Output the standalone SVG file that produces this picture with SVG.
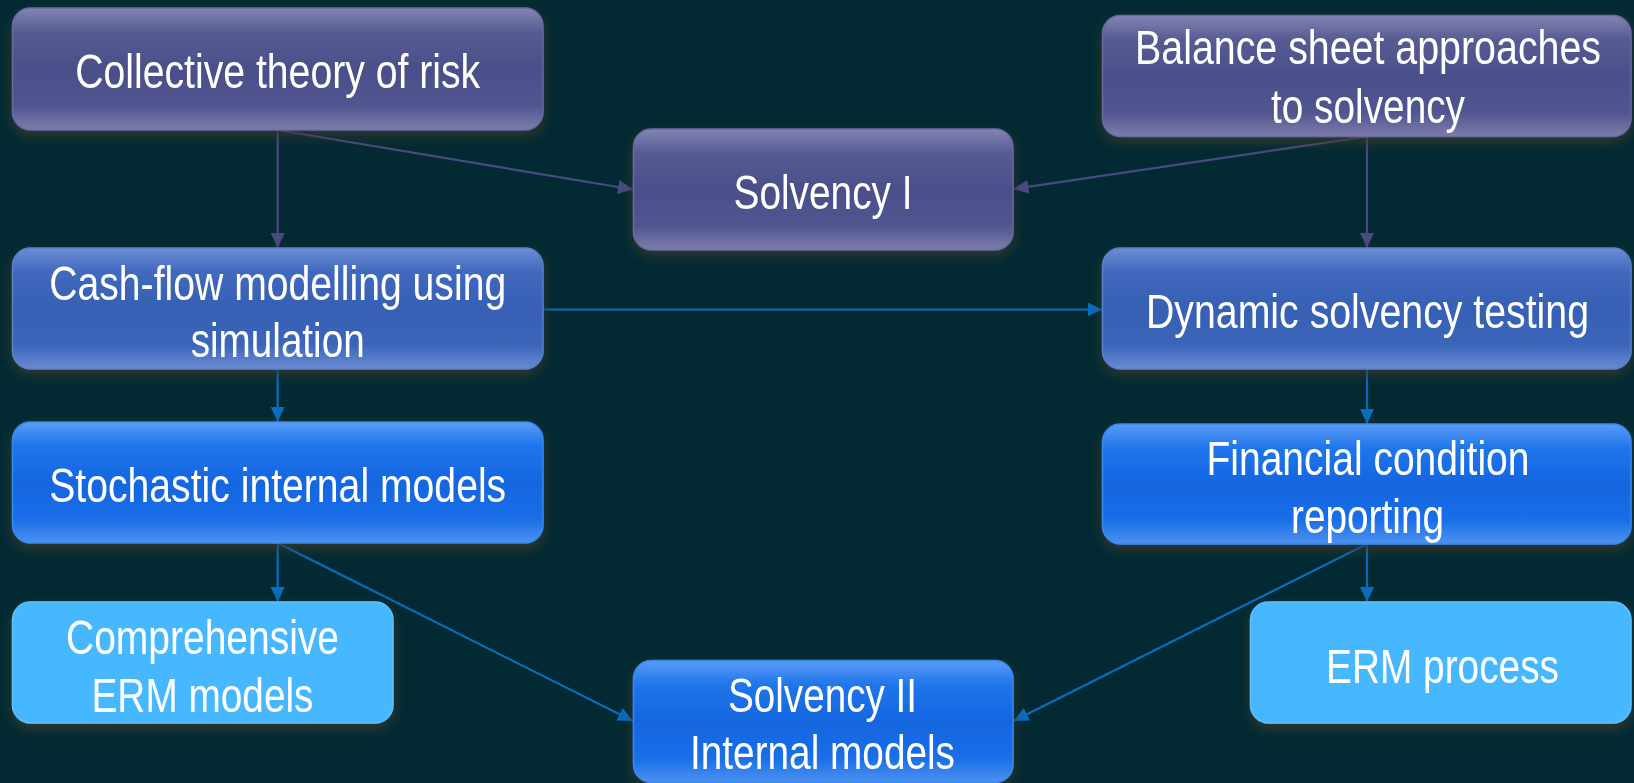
<svg xmlns="http://www.w3.org/2000/svg" width="1634" height="783" viewBox="0 0 1634 783">
<style>
.t{font-family:"Liberation Sans",Arial,sans-serif;font-size:48px;fill:#ffffff;text-anchor:middle}
.box{stroke-width:1.5}
.p{fill:url(#gP);stroke:#6a6aa0}
.m{fill:url(#gM);stroke:#5a80cc}
.b{fill:url(#gB);stroke:#3a88ee}
.l{fill:#47b8ff;stroke:#5cc2ff}
.cp{stroke:#4a4a80;stroke-width:2.2;fill:none;marker-end:url(#aP)}
.cb{stroke:#0a6cbf;stroke-width:2.2;fill:none;marker-end:url(#aB)}
</style>
<defs>
<linearGradient id="gP" x1="0" y1="0" x2="0" y2="1">
<stop offset="0" stop-color="#8484b4"/><stop offset="0.2" stop-color="#565b93"/><stop offset="0.5" stop-color="#4b4f89"/><stop offset="0.8" stop-color="#51558f"/><stop offset="1" stop-color="#7d7dac"/>
</linearGradient>
<linearGradient id="gM" x1="0" y1="0" x2="0" y2="1">
<stop offset="0" stop-color="#6c8dd5"/><stop offset="0.2" stop-color="#4068bc"/><stop offset="0.5" stop-color="#3660b4"/><stop offset="0.8" stop-color="#3b65b9"/><stop offset="1" stop-color="#6a8bd3"/>
</linearGradient>
<linearGradient id="gB" x1="0" y1="0" x2="0" y2="1">
<stop offset="0" stop-color="#5a9cf6"/><stop offset="0.2" stop-color="#1f75eb"/><stop offset="0.5" stop-color="#1566e0"/><stop offset="0.8" stop-color="#1a6ee6"/><stop offset="1" stop-color="#4c92f2"/>
</linearGradient>
<filter id="sh" x="-10%" y="-20%" width="120%" height="150%">
<feDropShadow dx="0" dy="5" stdDeviation="6" flood-color="#3b3a2a" flood-opacity="0.8"/>
</filter>
<marker id="aP" markerUnits="userSpaceOnUse" markerWidth="16" markerHeight="14" refX="15" refY="7" orient="auto">
<path d="M0,0 L15,7 L0,14 z" fill="#4a4a80"/>
</marker>
<marker id="aB" markerUnits="userSpaceOnUse" markerWidth="16" markerHeight="14" refX="15" refY="7" orient="auto">
<path d="M0,0 L15,7 L0,14 z" fill="#0a6cbf"/>
</marker>
</defs>
<rect width="1634" height="783" fill="#032a33"/>
<g id="connectors">
<line class="cp" x1="277.7" y1="130" x2="277.7" y2="248"/>
<line class="cp" x1="277.7" y1="130" x2="633" y2="189.5"/>
<line class="cp" x1="1367" y1="136.5" x2="1013.5" y2="189"/>
<line class="cp" x1="1367" y1="136.5" x2="1367" y2="248"/>
<line class="cb" x1="543" y1="309.5" x2="1102.5" y2="309.5"/>
<line class="cb" x1="277.7" y1="369" x2="277.7" y2="422"/>
<line class="cb" x1="1367" y1="369" x2="1367" y2="424"/>
<line class="cb" x1="277.7" y1="543" x2="277.7" y2="602"/>
<line class="cb" x1="277.7" y1="543" x2="633" y2="721"/>
<line class="cb" x1="1367" y1="544" x2="1367" y2="602"/>
<line class="cb" x1="1367" y1="544" x2="1013.5" y2="721"/>
</g>
<g id="n1" filter="url(#sh)">
<rect class="box p" x="12.5" y="8" width="530.5" height="122" rx="18"/>
<text class="t" x="277.7" y="88" textLength="405" lengthAdjust="spacingAndGlyphs">Collective theory of risk</text>
</g>
<g id="n2" filter="url(#sh)">
<rect class="box p" x="1102.5" y="15.5" width="528.5" height="121" rx="18"/>
<text class="t" x="1368" y="64" textLength="466" lengthAdjust="spacingAndGlyphs">Balance sheet approaches</text>
<text class="t" x="1368" y="123" textLength="194" lengthAdjust="spacingAndGlyphs">to solvency</text>
</g>
<g id="n3" filter="url(#sh)">
<rect class="box p" x="633.5" y="129" width="379.5" height="121" rx="18"/>
<text class="t" x="823" y="208.5" textLength="179" lengthAdjust="spacingAndGlyphs">Solvency I</text>
</g>
<g id="n4" filter="url(#sh)">
<rect class="box m" x="12.5" y="248" width="530.5" height="121" rx="18"/>
<text class="t" x="277.7" y="299.5" textLength="457" lengthAdjust="spacingAndGlyphs">Cash-flow modelling using</text>
<text class="t" x="277.7" y="357" textLength="174" lengthAdjust="spacingAndGlyphs">simulation</text>
</g>
<g id="n5" filter="url(#sh)">
<rect class="box m" x="1102.5" y="248" width="528.5" height="121" rx="18"/>
<text class="t" x="1367.5" y="328.3" textLength="443" lengthAdjust="spacingAndGlyphs">Dynamic solvency testing</text>
</g>
<g id="n6" filter="url(#sh)">
<rect class="box b" x="12.5" y="422" width="530.5" height="121" rx="18"/>
<text class="t" x="277.7" y="501.5" textLength="457" lengthAdjust="spacingAndGlyphs">Stochastic internal models</text>
</g>
<g id="n7" filter="url(#sh)">
<rect class="box b" x="1102.5" y="424" width="528.5" height="120" rx="18"/>
<text class="t" x="1368" y="475" textLength="323" lengthAdjust="spacingAndGlyphs">Financial condition</text>
<text class="t" x="1367.5" y="532.5" textLength="153" lengthAdjust="spacingAndGlyphs">reporting</text>
</g>
<g id="n8" filter="url(#sh)">
<rect class="box l" x="12.5" y="602" width="380.5" height="121" rx="18"/>
<text class="t" x="202.5" y="654" textLength="273" lengthAdjust="spacingAndGlyphs">Comprehensive</text>
<text class="t" x="202.5" y="711.5" textLength="222" lengthAdjust="spacingAndGlyphs">ERM models</text>
</g>
<g id="n9" filter="url(#sh)">
<rect class="box b" x="633.5" y="660.5" width="379.5" height="122" rx="18"/>
<text class="t" x="822.5" y="711.5" textLength="189" lengthAdjust="spacingAndGlyphs">Solvency II</text>
<text class="t" x="822.5" y="769" textLength="265" lengthAdjust="spacingAndGlyphs">Internal models</text>
</g>
<g id="n10" filter="url(#sh)">
<rect class="box l" x="1250.5" y="602" width="380.5" height="121" rx="18"/>
<text class="t" x="1442.5" y="682.5" textLength="233" lengthAdjust="spacingAndGlyphs">ERM process</text>
</g>
</svg>
